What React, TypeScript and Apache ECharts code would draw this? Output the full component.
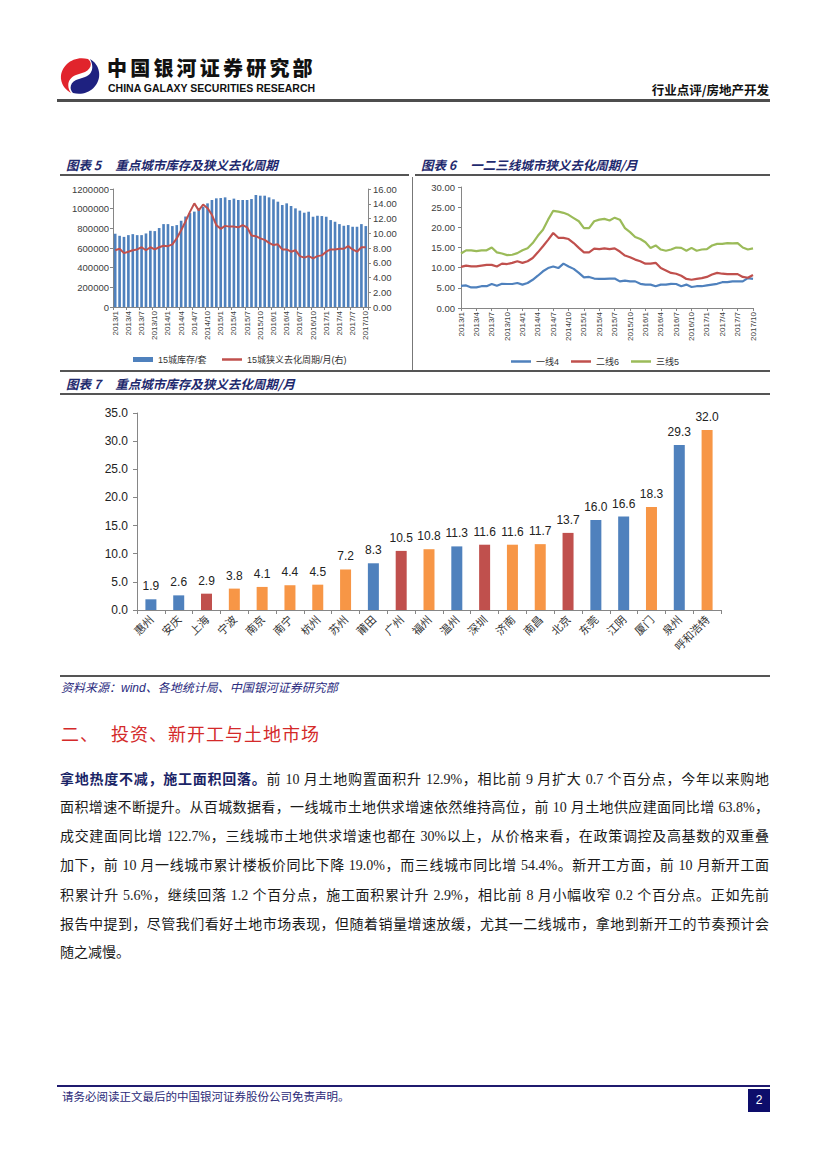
import React, { useEffect, useRef } from "react";
import * as echarts from "echarts";

// ---------- DATA ----------
const monthLabels = [
  "2013/1","2013/2","2013/3","2013/4","2013/5","2013/6","2013/7","2013/8","2013/9","2013/10","2013/11","2013/12",
  "2014/1","2014/2","2014/3","2014/4","2014/5","2014/6","2014/7","2014/8","2014/9","2014/10","2014/11","2014/12",
  "2015/1","2015/2","2015/3","2015/4","2015/5","2015/6","2015/7","2015/8","2015/9","2015/10","2015/11","2015/12",
  "2016/1","2016/2","2016/3","2016/4","2016/5","2016/6","2016/7","2016/8","2016/9","2016/10","2016/11","2016/12",
  "2017/1","2017/2","2017/3","2017/4","2017/5","2017/6","2017/7","2017/8","2017/9","2017/10",
];

// 图表5: 15城库存/套 (left axis)
const stockUnits = [
  745000, 724000, 713000, 731000, 741000, 731000, 731000, 748000, 775000, 772000, 803000, 843000,
  843000, 823000, 833000, 877000, 920000, 955000, 970000, 1005000, 1020000, 1054000, 1088000, 1105000,
  1108000, 1115000, 1088000, 1102000, 1088000, 1088000, 1088000, 1098000, 1139000, 1132000, 1132000, 1115000,
  1095000, 1071000, 1037000, 1054000, 1027000, 1003000, 980000, 959000, 969000, 918000, 928000, 925000,
  918000, 884000, 867000, 843000, 826000, 833000, 816000, 816000, 843000, 823000,
];
// 图表5: 15城狭义去化周期/月(右)
const cycle15 = [
  7.7, 7.9, 7.3, 7.5, 7.7, 7.8, 8.1, 7.7, 8.1, 7.8, 8.1, 8.3,
  8.25, 8.5, 9.3, 10.4, 11.6, 12.9, 14.05, 13.1, 13.9, 13.4, 12.5, 11.1,
  10.6, 11.0, 10.9, 10.9, 10.8, 11.1, 10.8, 9.7, 9.6, 9.3, 9.1, 8.7,
  8.4, 8.5, 7.8, 7.8, 7.5, 7.7, 6.9, 6.7, 6.9, 6.6, 6.9, 7.0,
  7.5, 7.8, 7.8, 7.9, 7.9, 8.25, 7.8, 7.5, 8.1, 8.1,
];

// 图表6: 一线4 / 二线6 / 三线5
const tier1Cycle = [
  5.5, 5.6, 5.1, 5.1, 5.4, 5.4, 5.95, 5.5, 6.0, 5.95, 5.95, 6.2,
  5.8, 6.2, 7.0, 8.0, 9.1, 9.9, 10.3, 9.9, 11.0, 10.3, 9.7, 8.7,
  7.6, 7.7, 7.3, 7.2, 7.2, 7.3, 7.3, 6.6, 6.8, 6.6, 6.6, 6.0,
  5.8, 5.8, 5.4, 5.8, 5.8, 6.0, 5.95, 5.4, 5.8, 5.2, 5.4, 5.4,
  5.6, 5.8, 6.0, 6.4, 6.4, 6.6, 6.6, 6.6, 7.4, 7.2,
];
const tier2Cycle = [
  10.2, 10.5, 10.3, 10.3, 10.5, 10.7, 10.7, 10.3, 11.0, 10.9, 11.2, 11.6,
  11.2, 11.6, 12.4, 13.8, 15.3, 16.9, 18.6, 17.4, 17.4, 17.1, 16.1, 14.9,
  13.8, 13.8, 14.7, 14.6, 14.8, 14.6, 14.8, 14.0, 13.0, 12.6, 12.0, 11.6,
  11.0, 11.0, 11.2, 9.9, 9.3, 8.7, 8.5, 8.0, 7.2, 7.0, 7.2, 7.4,
  7.7, 8.3, 8.7, 8.5, 8.4, 8.4, 8.4, 7.7, 7.5, 8.2,
];
const tier3Cycle = [
  13.5, 14.3, 14.3, 14.1, 14.3, 14.3, 15.0, 13.8, 13.5, 13.1, 13.2, 13.6,
  14.3, 14.8, 16.1, 17.9, 19.4, 21.9, 24.1, 23.9, 23.6, 23.1, 22.3, 21.5,
  19.8, 19.8, 21.5, 21.9, 22.1, 21.7, 22.4, 21.9, 19.8, 18.8, 17.6, 17.1,
  16.3, 14.9, 15.5, 14.5, 14.2, 14.5, 15.0, 14.9, 14.2, 14.9, 14.2, 14.5,
  14.6, 15.5, 15.9, 15.9, 16.1, 16.0, 16.1, 15.0, 14.5, 14.8,
];

// 图表7: 重点城市狭义去化周期/月
const cities = [
  "惠州","安庆","上海","宁波","南京","南宁","杭州","苏州","莆田","广州","福州",
  "温州","深圳","济南","南昌","北京","东莞","江阴","厦门","泉州","呼和浩特",
];
const cityCycle = [
  1.9, 2.6, 2.9, 3.8, 4.1, 4.4, 4.5, 7.2, 8.3, 10.5, 10.8,
  11.3, 11.6, 11.6, 11.7, 13.7, 16.0, 16.6, 18.3, 29.3, 32.0,
];
const cityTier = [
  3, 3, 1, 2, 2, 2, 2, 2, 3, 1, 2,
  3, 1, 2, 2, 1, 3, 3, 2, 3, 2,
];

// ---------- STYLE ----------
const TIER_COLORS: Record<number, string> = { 1: "#C0504D", 2: "#F79646", 3: "#4F81BD" };
const CHART_FONT = "'Liberation Sans','Noto Sans CJK SC',sans-serif";
const AXIS_GRAY = "#868686";
const NAVY = "#1F2A6E";

function Chart(props: { option: any; left: number; top: number; width: number; height: number }) {
  const ref = useRef<HTMLDivElement>(null);
  useEffect(() => {
    const c = echarts.init(ref.current!, undefined, { renderer: "svg" });
    c.setOption(props.option);
    return () => c.dispose();
  }, []);
  return (
    <div
      ref={ref}
      style={{ position: "absolute", left: props.left, top: props.top, width: props.width, height: props.height }}
    />
  );
}

const fig5Option = {
  animation: false,
  textStyle: { fontFamily: CHART_FONT },
  grid: { left: 53, right: 42, top: 9, bottom: 63 },
  legend: [
    {
      top: 170,
      left: 68,
      icon: "rect",
      itemWidth: 20,
      itemHeight: 5,
      textStyle: { fontSize: 9, color: "#333" },
      data: ["15城库存/套"],
    },
    {
      top: 170,
      left: 157,
      icon: "rect",
      itemWidth: 20,
      itemHeight: 2.5,
      textStyle: { fontSize: 9, color: "#333" },
      data: ["15城狭义去化周期/月(右)"],
    },
  ],
  xAxis: {
    type: "category",
    data: monthLabels,
    boundaryGap: true,
    axisLine: { lineStyle: { color: AXIS_GRAY } },
    axisTick: { show: true, interval: 2, length: 3, lineStyle: { color: AXIS_GRAY } },
    axisLabel: { interval: 2, rotate: 90, fontSize: 8, color: "#404040", margin: 4 },
  },
  yAxis: [
    {
      type: "value",
      min: 0,
      max: 1200000,
      interval: 200000,
      axisLine: { show: true, lineStyle: { color: AXIS_GRAY } },
      axisTick: { show: true, length: 3, lineStyle: { color: AXIS_GRAY } },
      splitLine: { show: false },
      axisLabel: { fontSize: 9.5, color: "#404040", margin: 4, formatter: (v: number) => String(v) },
    },
    {
      type: "value",
      position: "right",
      min: 0,
      max: 16,
      interval: 2,
      axisLine: { show: true, lineStyle: { color: AXIS_GRAY } },
      axisTick: { show: true, length: 3, lineStyle: { color: AXIS_GRAY } },
      splitLine: { show: false },
      axisLabel: { fontSize: 9.5, color: "#404040", margin: 5, formatter: (v: number) => v.toFixed(2) },
    },
  ],
  series: [
    {
      type: "bar",
      name: "15城库存/套",
      data: stockUnits,
      barCategoryGap: "40%",
      itemStyle: { color: "#4F81BD" },
    },
    {
      type: "line",
      name: "15城狭义去化周期/月(右)",
      yAxisIndex: 1,
      data: cycle15,
      symbol: "none",
      lineStyle: { color: "#C0504D", width: 2 },
      itemStyle: { color: "#C0504D" },
    },
  ],
};

const fig6Option = {
  animation: false,
  textStyle: { fontFamily: CHART_FONT },
  grid: { left: 46, right: 22, top: 7, bottom: 62 },
  legend: {
    top: 172,
    left: "center",
    icon: "rect",
    itemWidth: 20,
    itemHeight: 2.5,
    itemGap: 12,
    textStyle: { fontSize: 9, color: "#333" },
    data: ["一线4", "二线6", "三线5"],
  },
  xAxis: {
    type: "category",
    data: monthLabels,
    boundaryGap: false,
    axisLine: { lineStyle: { color: AXIS_GRAY } },
    axisTick: { show: true, interval: 2, length: 3, lineStyle: { color: AXIS_GRAY } },
    axisLabel: { interval: 2, rotate: 90, fontSize: 8, color: "#404040", margin: 4 },
  },
  yAxis: {
    type: "value",
    min: 0,
    max: 30,
    interval: 5,
    axisLine: { show: true, lineStyle: { color: AXIS_GRAY } },
    axisTick: { show: true, length: 3, lineStyle: { color: AXIS_GRAY } },
    splitLine: { show: false },
    axisLabel: { fontSize: 9.5, color: "#404040", margin: 6, formatter: (v: number) => v.toFixed(2) },
  },
  series: [
    { type: "line", name: "一线4", data: tier1Cycle, symbol: "none", lineStyle: { color: "#4F81BD", width: 2.2 }, itemStyle: { color: "#4F81BD" } },
    { type: "line", name: "二线6", data: tier2Cycle, symbol: "none", lineStyle: { color: "#C0504D", width: 2.2 }, itemStyle: { color: "#C0504D" } },
    { type: "line", name: "三线5", data: tier3Cycle, symbol: "none", lineStyle: { color: "#9BBB59", width: 2.2 }, itemStyle: { color: "#9BBB59" } },
  ],
};

const fig7Option = {
  animation: false,
  textStyle: { fontFamily: CHART_FONT },
  grid: { left: 77, right: 49, top: 18, bottom: 65 },
  xAxis: {
    type: "category",
    data: cities,
    axisLine: { lineStyle: { color: AXIS_GRAY } },
    axisTick: { show: true, length: 4, lineStyle: { color: AXIS_GRAY } },
    axisLabel: { interval: 0, rotate: 45, fontSize: 11, color: "#333", margin: 7, fontFamily: "'Noto Sans CJK SC',sans-serif" },
  },
  yAxis: {
    type: "value",
    min: 0,
    max: 35,
    interval: 5,
    axisLine: { show: true, lineStyle: { color: AXIS_GRAY } },
    axisTick: { show: true, length: 4, lineStyle: { color: AXIS_GRAY } },
    splitLine: { show: false },
    axisLabel: { fontSize: 12, color: "#222", margin: 9, formatter: (v: number) => v.toFixed(1) },
  },
  series: [
    {
      type: "bar",
      barWidth: 11,
      data: cityCycle.map((v, i) => ({ value: v, itemStyle: { color: TIER_COLORS[cityTier[i]] } })),
      label: {
        show: true,
        position: "top",
        distance: 7,
        fontSize: 12,
        color: "#222",
        formatter: (p: any) => Number(p.value).toFixed(1),
      },
    },
  ],
};

const paraLines: { bold?: string; text: string }[] = [
  { bold: "拿地热度不减，施工面积回落。", text: "前 10 月土地购置面积升 12.9%，相比前 9 月扩大 0.7 个百分点，今年以来购地" },
  { text: "面积增速不断提升。从百城数据看，一线城市土地供求增速依然维持高位，前 10 月土地供应建面同比增 63.8%，" },
  { text: "成交建面同比增 122.7%，三线城市土地供求增速也都在 30%以上，从价格来看，在政策调控及高基数的双重叠" },
  { text: "加下，前 10 月一线城市累计楼板价同比下降 19.0%，而三线城市同比增 54.4%。新开工方面，前 10 月新开工面" },
  { text: "积累计升 5.6%，继续回落 1.2 个百分点，施工面积累计升 2.9%，相比前 8 月小幅收窄 0.2 个百分点。正如先前" },
  { text: "报告中提到，尽管我们看好土地市场表现，但随着销量增速放缓，尤其一二线城市，拿地到新开工的节奏预计会" },
  { text: "随之减慢。" },
];
const paraCenters = [778, 807.5, 836.5, 866, 895.5, 924.5, 953];

function Line(p: { x: number; y: number; w: number; h: number; c: string }) {
  return <div style={{ position: "absolute", left: p.x, top: p.y, width: p.w, height: p.h, background: p.c }} />;
}

function FigTitle(p: { x: number; y: number; num: string; title: string }) {
  return (
    <div
      style={{
        position: "absolute",
        left: p.x,
        top: p.y,
        fontFamily: "'Noto Sans CJK SC',sans-serif",
        fontWeight: 700,
        fontStyle: "italic",
        fontSize: 12.5,
        lineHeight: "16px",
        color: NAVY,
        whiteSpace: "nowrap",
      }}
    >
      <span>图表 {p.num}</span>
      <span style={{ marginLeft: 14 }}>{p.title}</span>
    </div>
  );
}

export default function App() {
  return (
    <div
      lang="zh-CN"
      style={{
        position: "absolute",
        left: 0,
        top: 0,
        width: 827,
        height: 1169,
        background: "#fff",
        overflow: "hidden",
        fontFamily: "'Liberation Serif','Noto Sans CJK SC',serif",
      }}
    >
      {/* Header */}
      <svg style={{ position: "absolute", left: 58, top: 56 }} width={44} height={40} viewBox="0 0 44 40">
        <path d="M30 3 C15 -1 2 10 3 23 C4 30 8 34 13 37 C8 30 10 22 18 19 L27 16 C33 13 35 7 30 3 Z" fill="#E1242C" />
        <path d="M15 37 C30 41 43 29 41 16 C40 10 37 6 32 3 C36 10 35 18 27 21 L18 24 C12 27 11 33 15 37 Z" fill="#1E2180" />
      </svg>
      <div
        style={{
          position: "absolute",
          left: 107,
          top: 57.5,
          fontFamily: "'Noto Sans CJK SC',sans-serif",
          fontWeight: 900,
          fontSize: 20,
          lineHeight: "20px",
          height: 20,
          letterSpacing: 3.2,
          color: "#111",
          whiteSpace: "nowrap",
        }}
      >
        中国银河证券研究部
      </div>
      <div
        style={{
          position: "absolute",
          left: 108,
          top: 83,
          fontFamily: "'Liberation Sans',Arial,sans-serif",
          fontWeight: 700,
          fontSize: 10.5,
          lineHeight: "11px",
          height: 11,
          color: "#111",
          whiteSpace: "nowrap",
        }}
      >
        CHINA GALAXY SECURITIES RESEARCH
      </div>
      <div
        style={{
          position: "absolute",
          right: 827 - 769,
          top: 82,
          fontFamily: "'Noto Sans CJK SC',sans-serif",
          fontWeight: 700,
          fontSize: 12.5,
          lineHeight: "16px",
          color: "#111",
          whiteSpace: "nowrap",
        }}
      >
        行业点评/房地产开发
      </div>
      <Line x={57} y={99} w={713} h={3} c="#4D4D4D" />

      {/* Figure 5 & 6 block */}
      <FigTitle x={66} y={157} num="5" title="重点城市库存及狭义去化周期" />
      <FigTitle x={421} y={157} num="6" title="一二三线城市狭义去化周期/月" />
      <Line x={60} y={174} w={349} h={2} c="#555" />
      <Line x={415} y={174} w={355} h={2} c="#555" />
      <Line x={412} y={177} w={1} h={194} c="#777" />
      <Chart option={fig5Option} left={60} top={180} width={350} height={190} />
      <Chart option={fig6Option} left={415} top={180} width={360} height={190} />

      {/* Figure 7 */}
      <Line x={60} y={370} w={710} h={1.5} c="#555" />
      <FigTitle x={66} y={376} num="7" title="重点城市库存及狭义去化周期/月" />
      <Line x={60} y={393} w={710} h={2} c="#555" />
      <Chart option={fig7Option} left={60} top={395} width={710} height={280} />
      <Line x={60} y={675} w={710} h={2} c="#555" />

      {/* Source */}
      <div
        style={{
          position: "absolute",
          left: 61,
          top: 680,
          fontFamily: "'Liberation Sans','Noto Sans CJK SC',sans-serif",
          fontStyle: "italic",
          fontSize: 12,
          lineHeight: "16px",
          color: "#2B2C80",
          whiteSpace: "nowrap",
        }}
      >
        资料来源：wind、各地统计局、中国银河证券研究部
      </div>

      {/* Section heading */}
      <div
        style={{
          position: "absolute",
          left: 61,
          top: 722,
          fontFamily: "'Noto Sans CJK SC',sans-serif",
          fontSize: 18,
          lineHeight: "22px",
          letterSpacing: 1,
          color: "#D42A2A",
          whiteSpace: "nowrap",
        }}
      >
        <span>二、</span>
        <span style={{ marginLeft: 12 }}>投资、新开工与土地市场</span>
      </div>

      {/* Paragraph */}
      {paraLines.map((ln, i) => {
        const last = i === paraLines.length - 1;
        return (
          <div
            key={i}
            style={{
              position: "absolute",
              left: 60,
              top: paraCenters[i] - 10,
              width: 709,
              fontSize: 14,
              lineHeight: "20px",
              color: "#1A1A1A",
              textAlign: last ? "left" : "justify",
              textAlignLast: last ? "left" : "justify",
              whiteSpace: "normal",
            } as any}
          >
            {ln.bold ? (
              <span style={{ fontWeight: 700, color: "#1A2466", fontFamily: "'Noto Sans CJK SC',sans-serif" }}>
                {ln.bold}
              </span>
            ) : null}
            {ln.text}
          </div>
        );
      })}

      {/* Footer */}
      <Line x={57} y={1085} w={713} h={2} c="#1F1A6E" />
      <div
        style={{
          position: "absolute",
          left: 62,
          top: 1090,
          fontSize: 11.5,
          lineHeight: "15px",
          color: "#2B2A78",
          whiteSpace: "nowrap",
        }}
      >
        请务必阅读正文最后的中国银河证券股份公司免责声明。
      </div>
      <div
        style={{
          position: "absolute",
          left: 748,
          top: 1089,
          width: 22,
          height: 23,
          background: "#0D0D6B",
          color: "#fff",
          fontFamily: "'Liberation Sans',Arial,sans-serif",
          fontSize: 12,
          lineHeight: "23px",
          textAlign: "center",
        }}
      >
        2
      </div>
    </div>
  );
}
